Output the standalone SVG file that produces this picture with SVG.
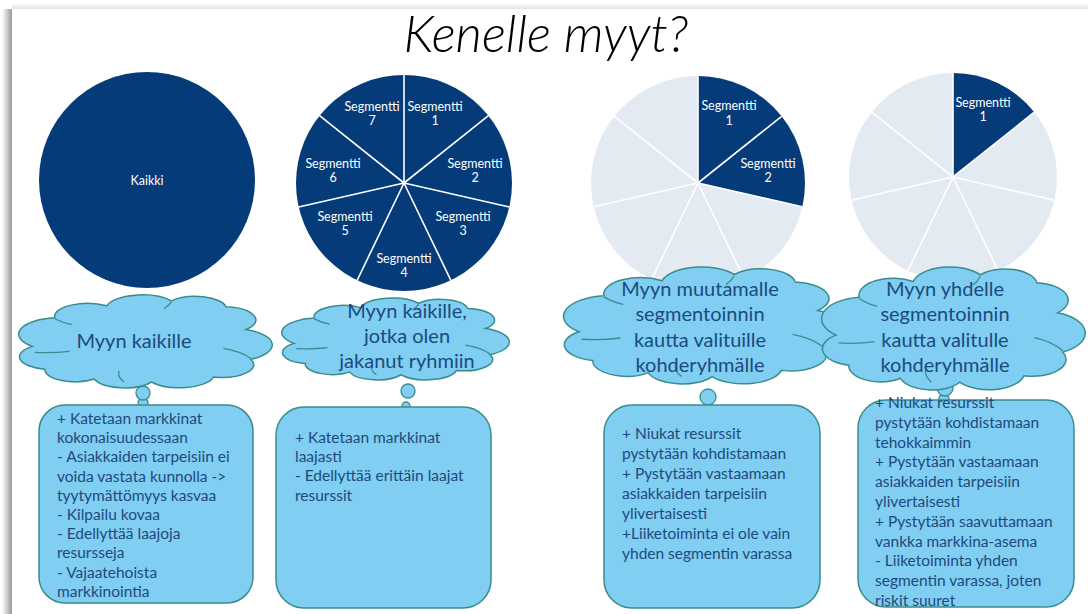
<svg xmlns="http://www.w3.org/2000/svg" width="1088" height="614" viewBox="0 0 1088 614">
<defs>
<style>
.navy{fill:#053B79}
.light{fill:#E4EAF2}
.sep{stroke:#FFFFFF;stroke-width:1.6;fill:none}
.seg{font-family:Lato,"Liberation Sans",sans-serif;font-size:12.5px;fill:#FFFFFF;text-anchor:middle}
.cl{fill:#80CEF1;stroke:#3A8C8C;stroke-width:1.5}
.crease{fill:none;stroke:#3A8C8C;stroke-width:1.3}
.ct{font-family:Lato,"Liberation Sans",sans-serif;font-size:20px;fill:#1B4A80;text-anchor:middle}
.bx{fill:#80CEF1;stroke:#3A8C8C;stroke-width:1.5}
.bt{font-family:Lato,"Liberation Sans",sans-serif;font-size:15.5px;fill:#1F497D}
.bub{fill:#80CEF1;stroke:#3A8C8C;stroke-width:1.3}
</style>
<linearGradient id="shL" x1="0" y1="0" x2="1" y2="0">
<stop offset="0" stop-color="#FFFFFF"/>
<stop offset="1" stop-color="#9A9A9A"/>
</linearGradient>
<linearGradient id="shT" x1="0" y1="0" x2="0" y2="1">
<stop offset="0" stop-color="#FFFFFF"/>
<stop offset="1" stop-color="#E2E2E2"/>
</linearGradient>
<g id="cloudShape">
<path class="cl" vector-effect="non-scaling-stroke" d="M4,55 A16.7,16.7 0 0 1 13,26 A13.3,13.3 0 0 1 34,14 A14.6,14.6 0 0 1 60,9 A12.5,12.5 0 0 1 82,15 A13.4,13.4 0 0 1 90,38 A16.5,16.5 0 0 1 92,68 A12.9,12.9 0 0 1 77,86 A14,14 0 0 1 52,91 A12.8,12.8 0 0 1 29,88 A12.3,12.3 0 0 1 9,78 A12.9,12.9 0 0 1 4,55 Z"/>
<path class="crease" vector-effect="non-scaling-stroke" d="M5,61 Q12,62 19,60"/>
<path class="crease" vector-effect="non-scaling-stroke" d="M92,67 Q88,60 81,57"/>
<path class="crease" vector-effect="non-scaling-stroke" d="M41,91 Q38,86 39,80"/>
<path class="crease" vector-effect="non-scaling-stroke" d="M13,27 Q16,31 20,33"/>
<path class="crease" vector-effect="non-scaling-stroke" d="M60,10 Q59,14 57,17"/>
</g>
</defs>

<rect x="0" y="0" width="1088" height="614" fill="#FFFFFF"/>
<rect x="12" y="3" width="1076" height="6" fill="url(#shT)"/>
<rect x="2" y="9" width="10" height="605" fill="url(#shL)"/>

<g id="title">
<text x="546" y="52" font-family="Lato,'Liberation Sans',sans-serif" font-style="italic" font-weight="300" font-size="51" text-anchor="middle" fill="#000000">Kenelle myyt?</text>
</g>

<g id="circle-kaikki">
<circle class="navy" cx="147" cy="180" r="108"/>
<text class="seg" x="147" y="185" font-size="14">Kaikki</text>
</g>

<g id="pie-7">
<circle class="navy" cx="404" cy="183" r="108"/>
<path class="sep" d="M404,183 L404,75 M404,183 L488.43,115.66 M404,183 L509.29,207.03 M404,183 L450.86,280.31 M404,183 L357.14,280.31 M404,183 L298.71,207.03 M404,183 L319.57,115.66"/>
<text class="seg" x="435" y="111">Segmentti</text><text class="seg" x="435" y="125">1</text>
<text class="seg" x="475" y="168">Segmentti</text><text class="seg" x="475" y="182">2</text>
<text class="seg" x="463" y="221">Segmentti</text><text class="seg" x="463" y="235">3</text>
<text class="seg" x="404" y="263">Segmentti</text><text class="seg" x="404" y="277">4</text>
<text class="seg" x="345" y="221">Segmentti</text><text class="seg" x="345" y="235">5</text>
<text class="seg" x="333" y="168">Segmentti</text><text class="seg" x="333" y="182">6</text>
<text class="seg" x="372" y="111">Segmentti</text><text class="seg" x="372" y="125">7</text>
</g>

<g id="pie-2">
<circle class="light" cx="698" cy="183" r="107"/>
<path class="navy" d="M698,183 L698,76 A107,107 0 0 1 802.31,206.81 Z"/>
<path class="sep" d="M698,183 L698,76 M698,183 L781.65,116.29 M698,183 L802.31,206.81 M698,183 L744.43,279.41 M698,183 L651.57,279.41 M698,183 L593.69,206.81 M698,183 L614.35,116.29"/>
<text class="seg" x="729" y="110">Segmentti</text><text class="seg" x="729" y="125">1</text>
<text class="seg" x="768" y="168">Segmentti</text><text class="seg" x="768" y="182">2</text>
</g>

<g id="pie-1">
<circle class="light" cx="953" cy="177" r="104"/>
<path class="navy" d="M953,177 L953,73 A104,104 0 0 1 1034.31,112.16 Z"/>
<path class="sep" d="M953,177 L953,73 M953,177 L1034.31,112.16 M953,177 L1054.39,200.14 M953,177 L998.13,270.7 M953,177 L907.87,270.7 M953,177 L851.61,200.14 M953,177 L871.69,112.16"/>
<text class="seg" x="983" y="107">Segmentti</text><text class="seg" x="983" y="121">1</text>
</g>

<g id="connectors">
<circle class="bub" cx="143" cy="403" r="5"/>
<circle class="bub" cx="143" cy="393" r="7"/>
<circle class="bub" cx="406" cy="406" r="4"/>
<circle class="bub" cx="408" cy="391" r="7"/>
<circle class="bub" cx="708" cy="397" r="8"/>
<circle class="bub" cx="944" cy="399" r="5"/>
<circle class="bub" cx="945" cy="388" r="8"/>
</g>

<g id="cloud-1">
<use href="#cloudShape" transform="translate(22.5,292) scale(2.48,0.989)"/>
<text class="ct" x="134" y="348">Myyn kaikille</text>
</g>

<g id="cloud-2">
<use href="#cloudShape" transform="translate(285.2,295.4) scale(2.225,0.872)"/>
<text class="ct" x="407" y="318">Myyn kaikille,</text>
<text class="ct" x="407" y="343">jotka olen</text>
<text class="ct" x="407" y="368">jakanut ryhmiin</text>
</g>

<g id="cloud-3">
<use href="#cloudShape" transform="translate(567.8,263.3) scale(2.775,1.245)"/>
<text class="ct" x="700" y="296">Myyn muutamalle</text>
<text class="ct" x="700" y="321">segmentoinnin</text>
<text class="ct" x="700" y="347">kautta valituille</text>
<text class="ct" x="700" y="372">kohderyhmälle</text>
</g>

<g id="cloud-4">
<use href="#cloudShape" transform="translate(825.6,263.1) scale(2.578,1.309)"/>
<text class="ct" x="945" y="296">Myyn yhdelle</text>
<text class="ct" x="945" y="321">segmentoinnin</text>
<text class="ct" x="945" y="347">kautta valitulle</text>
<text class="ct" x="945" y="372">kohderyhmälle</text>
</g>

<g id="box-1">
<rect class="bx" x="39" y="405" width="214" height="198" rx="26"/>
<text class="bt">
<tspan x="57" y="424">+ Katetaan markkinat</tspan>
<tspan x="57" y="443.2">kokonaisuudessaan</tspan>
<tspan x="57" y="462.4">- Asiakkaiden tarpeisiin ei</tspan>
<tspan x="57" y="481.6">voida vastata kunnolla -&gt;</tspan>
<tspan x="57" y="500.8">tyytymättömyys kasvaa</tspan>
<tspan x="57" y="520">- Kilpailu kovaa</tspan>
<tspan x="57" y="539.2">- Edellyttää laajoja</tspan>
<tspan x="57" y="558.4">resursseja</tspan>
<tspan x="57" y="577.6">- Vajaatehoista</tspan>
<tspan x="57" y="596.8">markkinointia</tspan>
</text>
</g>

<g id="box-2">
<rect class="bx" x="276" y="407" width="215" height="201" rx="28"/>
<text class="bt">
<tspan x="295" y="443">+ Katetaan markkinat</tspan>
<tspan x="295" y="462.2">laajasti</tspan>
<tspan x="295" y="481.4">- Edellyttää erittäin laajat</tspan>
<tspan x="295" y="500.6">resurssit</tspan>
</text>
</g>

<g id="box-3">
<rect class="bx" x="604" y="405" width="216" height="203" rx="28"/>
<text class="bt">
<tspan x="622" y="439">+ Niukat resurssit</tspan>
<tspan x="622" y="459">pystytään kohdistamaan</tspan>
<tspan x="622" y="479">+ Pystytään vastaamaan</tspan>
<tspan x="622" y="499">asiakkaiden tarpeisiin</tspan>
<tspan x="622" y="519">ylivertaisesti</tspan>
<tspan x="622" y="539">+Liiketoiminta ei ole vain</tspan>
<tspan x="622" y="559">yhden segmentin varassa</tspan>
</text>
</g>

<g id="box-4">
<rect class="bx" x="858" y="400" width="216" height="207" rx="28"/>
<text class="bt">
<tspan x="875" y="408">+ Niukat resurssit</tspan>
<tspan x="875" y="427.8">pystytään kohdistamaan</tspan>
<tspan x="875" y="447.6">tehokkaimmin</tspan>
<tspan x="875" y="467.4">+ Pystytään vastaamaan</tspan>
<tspan x="875" y="487.2">asiakkaiden tarpeisiin</tspan>
<tspan x="875" y="507">ylivertaisesti</tspan>
<tspan x="875" y="526.8">+ Pystytään saavuttamaan</tspan>
<tspan x="875" y="546.6">vankka markkina-asema</tspan>
<tspan x="875" y="566.4">- Liiketoiminta yhden</tspan>
<tspan x="875" y="586.2">segmentin varassa, joten</tspan>
<tspan x="875" y="606">riskit suuret</tspan>
</text>
</g>
</svg>
